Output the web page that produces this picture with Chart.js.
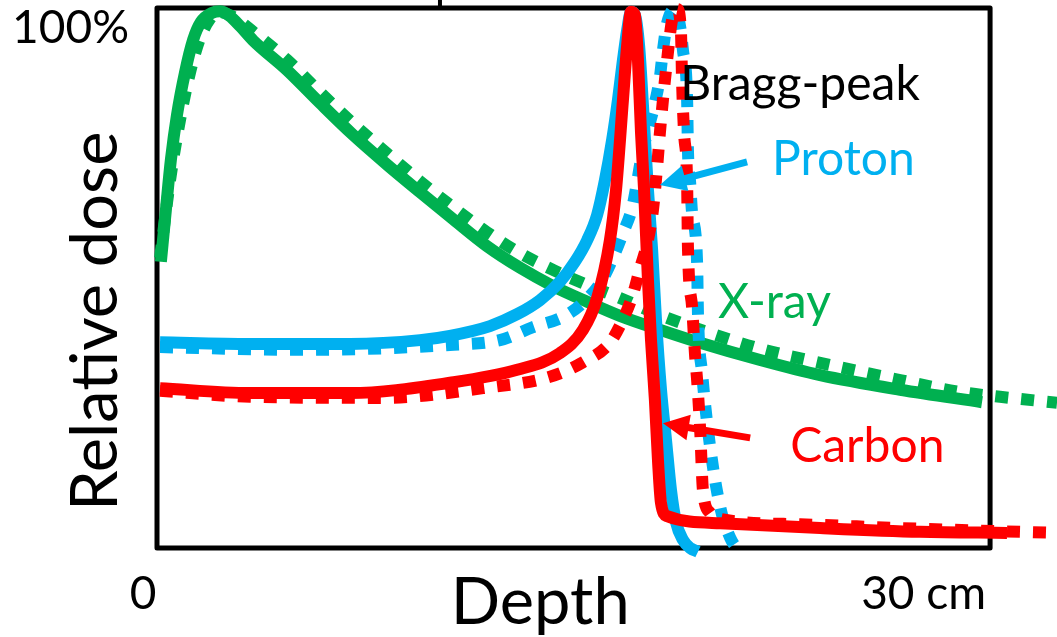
<!DOCTYPE html>
<html>
<head>
<meta charset="utf-8">
<script src="https://cdn.jsdelivr.net/npm/chart.js@4"></script>
<style>
  body { margin: 0; background: #fff; }
</style>
</head>
<body>
<canvas id="braggChart" width="1057" height="637"></canvas>
<script>
// depth in cm, relative dose in %
const xrayDepth = [0.14, 0.32, 0.50, 0.72, 1.01, 1.30, 1.58, 1.98, 2.27, 2.60, 3.00, 3.46, 4.68, 5.87, 7.06, 8.28, 9.47, 10.66, 11.88, 13.07, 14.26, 15.49, 16.67, 18.12, 19.56, 21.72, 23.88, 26.76, 29.71];
const xrayDose = [53.0, 62.6, 71.9, 80.2, 88.1, 94.1, 97.4, 99.1, 99.4, 98.6, 96.6, 94.0, 88.5, 82.4, 76.5, 71.0, 65.9, 60.9, 55.9, 51.9, 48.5, 45.6, 43.0, 40.4, 38.0, 34.8, 32.0, 29.3, 27.0];

const xrayDotDepth = [0.11, 0.47, 0.83, 1.19, 1.55, 1.91, 2.20, 2.70, 3.46, 4.68, 5.87, 7.06, 8.28, 9.47, 10.66, 11.88, 13.07, 14.26, 15.49, 16.67, 18.12, 19.92, 21.72, 23.88, 26.76, 28.92, 30.36, 32.41];
const xrayDotDose = [53.7, 68.1, 79.3, 88.1, 94.4, 98.0, 99.3, 98.5, 95.6, 90.4, 84.4, 78.6, 73.1, 67.9, 63.1, 58.5, 54.6, 51.5, 48.7, 46.3, 43.1, 39.8, 36.9, 34.3, 31.1, 28.9, 28.0, 26.9];

const protonDepth = [0.11, 3.35, 6.95, 9.47, 10.55, 11.99, 12.97, 13.79, 14.51, 15.05, 15.49, 15.85, 16.13, 16.39, 16.60, 16.78, 16.93, 17.07, 17.21, 17.36, 17.51, 17.68, 17.83, 17.97, 18.15, 18.33, 18.51, 18.69, 18.94, 19.20, 19.48];
const protonDose = [38.1, 37.8, 37.8, 38.5, 39.3, 41.1, 43.3, 45.9, 49.3, 53.0, 57.0, 61.7, 68.1, 75.6, 83.0, 90.4, 95.9, 99.3, 98.7, 93.1, 81.1, 66.3, 55.2, 42.2, 29.3, 20.0, 10.7, 4.8, 1.5, 0.0, -0.7];

const protonDotDepth = [0.11, 5.15, 10.55, 12.35, 13.54, 14.62, 15.34, 16.03, 16.42, 16.78, 17.11, 17.29, 17.47, 17.68, 17.93, 18.11, 18.22, 18.37, 18.66, 18.84, 18.94, 19.09, 19.12, 19.20, 19.27, 19.45, 19.48, 19.63, 19.92, 20.28, 20.64, 21.00];
const protonDotDose = [37.2, 36.7, 37.6, 38.5, 40.9, 42.8, 45.4, 49.6, 53.7, 58.3, 63.0, 67.8, 73.1, 77.4, 82.4, 87.2, 92.2, 97.2, 99.8, 96.5, 92.2, 83.0, 73.7, 67.6, 62.0, 52.8, 43.5, 32.4, 18.7, 7.6, 1.9, -0.9];

const carbonDepth = [0.11, 3.35, 6.95, 10.55, 12.97, 14.51, 15.34, 15.85, 16.31, 16.53, 16.78, 16.93, 17.07, 17.21, 17.32, 17.43, 17.54, 17.68, 17.79, 17.93, 18.04, 18.15, 18.37, 20.28, 23.88, 27.48, 30.61];
const carbonDose = [29.6, 28.7, 28.7, 30.6, 33.0, 36.1, 40.4, 46.3, 57.0, 66.3, 83.0, 93.1, 99.3, 98.7, 90.4, 76.9, 66.3, 49.6, 38.5, 27.4, 16.3, 8.3, 5.9, 4.6, 3.7, 3.0, 2.8];

const carbonDotDepth = [0.11, 3.35, 8.14, 11.74, 14.15, 15.34, 16.31, 16.74, 17.11, 17.40, 17.68, 17.86, 18.01, 18.11, 18.22, 18.37, 18.55, 18.73, 18.87, 18.91, 18.98, 19.09, 19.12, 19.27, 19.38, 19.45, 19.56, 19.66, 19.92, 20.28, 23.16, 26.76, 30.36, 32.41];
const carbonDotDose = [29.1, 28.0, 27.8, 29.6, 31.7, 34.4, 38.0, 41.9, 46.5, 51.9, 57.0, 62.6, 70.6, 76.9, 83.0, 90.4, 97.8, 99.8, 95.4, 86.1, 76.9, 67.6, 55.7, 44.6, 35.4, 31.1, 21.9, 10.7, 6.5, 5.4, 4.4, 3.7, 3.1, 2.8];

const xLabels = ["0", "30 cm"];
const yLabel = "100%";

const GREEN = "#00b050";
const BLUE = "#00b0f0";
const RED = "#ff0000";
const FONT = "Lato, 'Open Sans', sans-serif";

function pts(xs, ys) {
  return xs.map((x, i) => ({ x: x, y: ys[i] }));
}

function line(label, xs, ys, color, dotted) {
  return {
    label: label,
    data: pts(xs, ys),
    borderColor: color,
    borderWidth: 12,
    borderDash: dotted ? [13, 13] : [],
    borderCapStyle: "butt",
    borderJoinStyle: "round",
    pointRadius: 0,
    cubicInterpolationMode: "monotone",
    fill: false,
    clip: false
  };
}

const annotations = {
  id: "annotations",
  beforeDatasetsDraw(chart) {
    const ctx = chart.ctx;
    const x = chart.scales.x, y = chart.scales.y;
    const left = x.getPixelForValue(0), right = x.getPixelForValue(30);
    const top = y.getPixelForValue(100), bottom = y.getPixelForValue(0);
    ctx.save();
    ctx.strokeStyle = "#000";
    ctx.lineWidth = 5;
    ctx.lineJoin = "round";
    ctx.strokeRect(left, top, right - left, bottom - top);
    // small stub above the frame
    ctx.beginPath();
    ctx.moveTo(x.getPixelForValue(10.19), 0);
    ctx.lineTo(x.getPixelForValue(10.19), top);
    ctx.lineWidth = 4;
    ctx.stroke();
    ctx.restore();
  },
  afterDraw(chart) {
    const ctx = chart.ctx;
    const x = chart.scales.x, y = chart.scales.y;
    ctx.save();
    ctx.textBaseline = "alphabetic";

    // axis labels
    ctx.fillStyle = "#000";
    ctx.font = "46px " + FONT;
    ctx.textAlign = "right";
    ctx.fillText(yLabel, x.getPixelForValue(0) - 28, y.getPixelForValue(100) + 35);
    ctx.textAlign = "center";
    ctx.fillText(xLabels[0], x.getPixelForValue(0) - 14, 609);
    ctx.textAlign = "right";
    ctx.fillText(xLabels[1], x.getPixelForValue(30) - 4, 609);

    ctx.font = "65px " + FONT;
    ctx.textAlign = "center";
    ctx.fillText("Depth", x.getPixelForValue(13.8), 624);

    ctx.save();
    ctx.translate(117, y.getPixelForValue(42));
    ctx.rotate(-Math.PI / 2);
    ctx.fillText("Relative dose", 0, 0);
    ctx.restore();

    // arrows
    function arrow(x0, y0, x1, y1, color) {
      const ax = x.getPixelForValue(x0), ay = y.getPixelForValue(y0);
      const bx = x.getPixelForValue(x1), by = y.getPixelForValue(y1);
      const ang = Math.atan2(by - ay, bx - ax);
      const head = 26, hw = 13;
      ctx.strokeStyle = color;
      ctx.fillStyle = color;
      ctx.lineWidth = 7;
      ctx.beginPath();
      ctx.moveTo(ax, ay);
      ctx.lineTo(bx - Math.cos(ang) * head * 0.8, by - Math.sin(ang) * head * 0.8);
      ctx.stroke();
      ctx.beginPath();
      ctx.moveTo(bx, by);
      ctx.lineTo(bx - Math.cos(ang) * head - Math.sin(ang) * hw, by - Math.sin(ang) * head + Math.cos(ang) * hw);
      ctx.lineTo(bx - Math.cos(ang) * head + Math.sin(ang) * hw, by - Math.sin(ang) * head - Math.cos(ang) * hw);
      ctx.closePath();
      ctx.fill();
    }
    arrow(21.25, 71.5, 18.11, 67.2, BLUE);
    arrow(21.36, 20.4, 18.22, 23.1, RED);

    // series labels
    ctx.textAlign = "left";
    ctx.font = "48px " + FONT;
    ctx.fillStyle = "#000";
    ctx.fillText("Bragg-peak", x.getPixelForValue(18.84), y.getPixelForValue(83.0));
    ctx.fillStyle = BLUE;
    ctx.fillText("Proton", x.getPixelForValue(22.15), y.getPixelForValue(69.1));
    ctx.fillStyle = GREEN;
    ctx.fillText("X-ray", x.getPixelForValue(20.2), y.getPixelForValue(42.6));
    ctx.fillStyle = RED;
    ctx.fillText("Carbon", x.getPixelForValue(22.8), y.getPixelForValue(15.9));
    ctx.restore();
  }
};

new Chart(document.getElementById("braggChart"), {
  type: "line",
  data: {
    datasets: [
      line("Carbon", carbonDepth, carbonDose, RED, false),
      line("Carbon (dotted)", carbonDotDepth, carbonDotDose, RED, true),
      line("Proton", protonDepth, protonDose, BLUE, false),
      line("Proton (dotted)", protonDotDepth, protonDotDose, BLUE, true),
      line("X-ray", xrayDepth, xrayDose, GREEN, false),
      line("X-ray (dotted)", xrayDotDepth, xrayDotDose, GREEN, true)
    ]
  },
  options: {
    responsive: false,
    animation: false,
    layout: { padding: { left: 157, right: 0, top: 8, bottom: 89 } },
    scales: {
      x: { type: "linear", min: 0, max: 32.41, display: false },
      y: { type: "linear", min: 0, max: 100, display: false }
    },
    plugins: {
      legend: { display: false },
      tooltip: { enabled: false }
    }
  },
  plugins: [annotations]
});
</script>
</body>
</html>
